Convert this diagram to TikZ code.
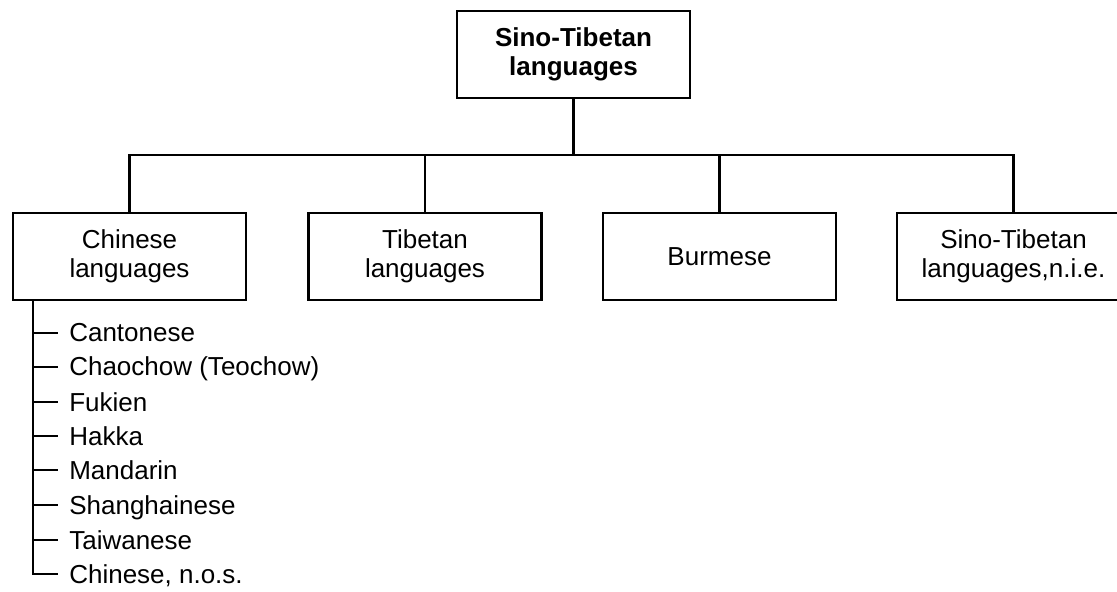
\documentclass[tikz,border=0pt]{standalone}
\usepackage{fontspec}
\setmainfont{Liberation Sans}
\begin{document}
\begin{tikzpicture}[x=0.5pt,y=-0.5pt,line width=1.3pt,
	langbox/.style={draw,minimum width=116.5pt,minimum height=43.5pt,
		align=center,inner sep=0pt,font=\fontsize{13}{14.5}\selectfont},
	dialect/.style={anchor=west,inner xsep=5pt,inner ysep=0pt,
		text height=9pt,text depth=0pt,font=\fontsize{13}{15}\selectfont}]
\useasboundingbox (0,0) rectangle (1117,592);
% root
\node[langbox,font=\fontsize{13}{14.5}\selectfont\bfseries] (sino) at (573.5,54.5) {Sino-Tibetan\\languages};

% branches
\node[langbox] (chinese) at (129.5,256.5) {Chinese\\languages};
\node[langbox] (tibetan) at (425,256.5) {Tibetan\\languages};
\node[langbox] (burmese) at (719.5,256.5) {Burmese};
\node[langbox] (nie) at (1013.5,256.5) {Sino-Tibetan\\languages,n.i.e.};

% bus line
\coordinate (bus) at (0,155);
\draw (sino.south) -- (sino.south |- bus);
\draw (chinese.north) |- (nie.north |- bus) -- (nie.north);
\draw (tibetan.north) -- (tibetan.north |- bus);
\draw (burmese.north) -- (burmese.north |- bus);

% chinese dialects
\coordinate (trunk) at (33,300);
\foreach \name/\ypos/\label in {c1/333/Cantonese,c2/367/Chaochow (Teochow),
	c3/402/Fukien,c4/436/Hakka,c5/470/Mandarin,c6/505/Shanghainese,
	c7/540/Taiwanese,c8/574/{Chinese, n.o.s.}}{
	\node[dialect] (\name) at (58,\ypos) {\label};
	\draw (trunk) |- (\name.west);
}
\end{tikzpicture}
\end{document}
